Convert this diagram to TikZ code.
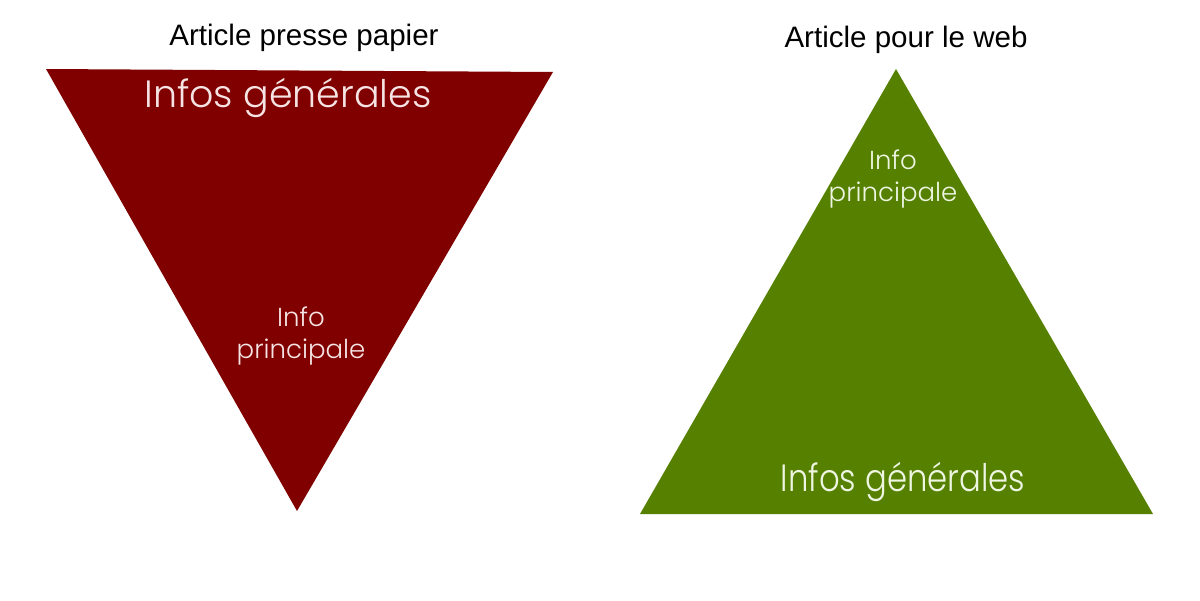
\documentclass[tikz,border=0pt]{standalone}
\usepackage{fontspec}
\setmainfont{Liberation Sans}
\IfFontExistsTF{Poppins Light}
  {\newfontfamily\roundfont{Poppins Light}}
  {\newfontfamily\roundfont{Poppins}}
\usepackage{graphicx}
\usepackage{tikz}
\usetikzlibrary{positioning}
\definecolor{pressred}{HTML}{800000}
\definecolor{webgreen}{HTML}{558000}
\definecolor{redtext}{HTML}{F6E4E4}
\definecolor{greentext}{HTML}{EEF6E2}
\newcommand{\squeezed}[1]{\scalebox{0.85}[1]{#1}}

\begin{document}
\begin{tikzpicture}[x=0.01cm, y=-0.01cm,
    title/.style={font=\fontsize{8.4}{10}\selectfont, text=black},
    big/.style={font=\roundfont\fontsize{10.8}{13}\selectfont},
    small/.style={font=\roundfont\fontsize{7.4}{9.2}\selectfont, align=center}]
  \useasboundingbox[fill=white] (0,0) rectangle (1200,600);

  % paper article: inverted triangle
  \coordinate (P1) at (46,69);
  \coordinate (P2) at (553,72);
  \coordinate (P3) at (297,511);
  \fill[pressred] (P1) -- (P2) -- (P3) -- cycle;

  % web article: upright triangle
  \coordinate (W1) at (896,69);
  \coordinate (W2) at (1153,514);
  \coordinate (W3) at (640,514);
  \fill[webgreen] (W1) -- (W2) -- (W3) -- cycle;

  \node[title] (Tpaper) at (304,38) {Article presse papier};
  \node[title] (Tweb) at (906,40) {Article pour le web};

  \node[big, text=redtext] (Gpaper) at (288,98) {Infos générales};
  \node[small, text=redtext] (Ppaper) at (301,336) {Info\\principale};

  \node[small, text=greentext] (Pweb) at (893,179) {Info\\principale};
  \node[big, text=greentext] (Gweb) at (903,482) {\squeezed{Infos générales}};
\end{tikzpicture}
\end{document}
